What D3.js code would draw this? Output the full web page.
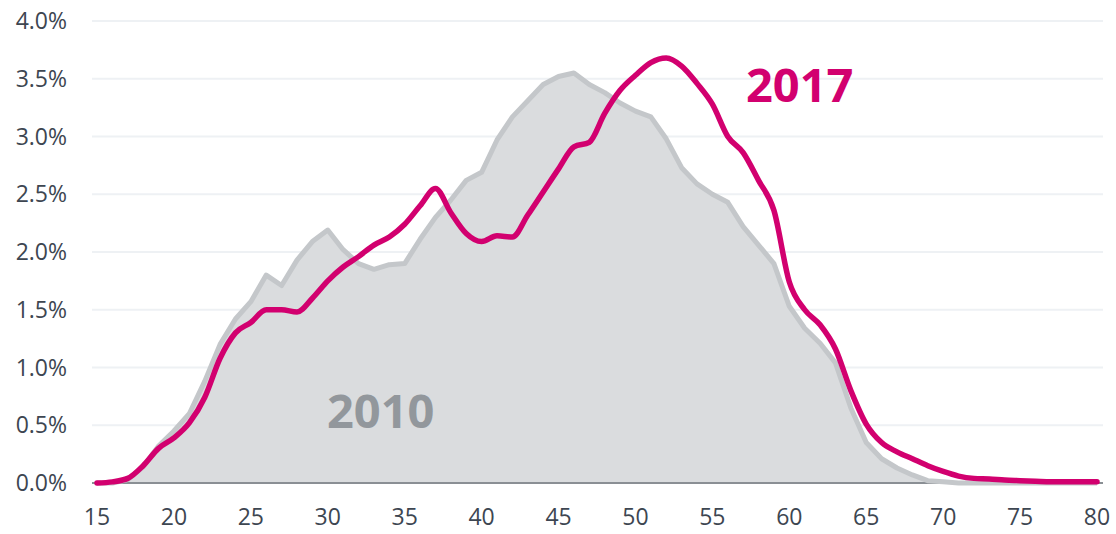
<!DOCTYPE html>
<html>
<head>
<meta charset="utf-8">
<script src="https://cdn.jsdelivr.net/npm/d3@7"></script>
<style>
  body { margin: 0; background: #fff; }
  svg { display: block; font-family: "Open Sans", sans-serif; }
</style>
</head>
<body>
<div id="chart"></div>
<script>
// ages on the x axis
var ages = d3.range(15, 81);
// share of population by age, %
var share2010 = [0, 0, 0.03, 0.14, 0.32, 0.45, 0.60, 0.88, 1.20, 1.42,
  1.57, 1.80, 1.71, 1.93, 2.09, 2.19, 2.02, 1.90, 1.85, 1.89,
  1.90, 2.11, 2.30, 2.45, 2.62, 2.69, 2.97, 3.17, 3.31, 3.45,
  3.52, 3.55, 3.45, 3.38, 3.29, 3.22, 3.17, 2.98, 2.73, 2.59,
  2.50, 2.43, 2.22, 2.06, 1.90, 1.53, 1.34, 1.21, 1.04, 0.65,
  0.35, 0.21, 0.13, 0.07, 0.02, 0.01, 0, 0, 0, 0,
  0, 0, 0, 0, 0, 0];
var share2017 = [0, 0.01, 0.04, 0.15, 0.30, 0.39, 0.52, 0.74, 1.08, 1.30,
  1.39, 1.50, 1.50, 1.48, 1.60, 1.75, 1.87, 1.96, 2.06, 2.13,
  2.24, 2.40, 2.55, 2.34, 2.16, 2.09, 2.14, 2.13, 2.32, 2.52,
  2.72, 2.91, 2.95, 3.20, 3.40, 3.53, 3.64, 3.68, 3.61, 3.46,
  3.28, 3.00, 2.86, 2.62, 2.36, 1.74, 1.50, 1.37, 1.16, 0.80,
  0.51, 0.35, 0.27, 0.21, 0.15, 0.10, 0.06, 0.04, 0.035, 0.025,
  0.02, 0.015, 0.01, 0.01, 0.01, 0.01];
var xTicks = [15, 20, 25, 30, 35, 40, 45, 50, 55, 60, 65, 70, 75, 80];
var yTicks = [0, 0.5, 1, 1.5, 2, 2.5, 3, 3.5, 4];

var width = 1116, height = 534;

var svg = d3.select("#chart").append("svg")
  .attr("width", width)
  .attr("height", height);

var x = d3.scaleLinear().domain([15, 80]).range([97, 1097]);
var y = d3.scaleLinear().domain([0, 4]).range([483, 21]);

// gridlines
svg.append("g")
  .selectAll("line")
  .data(yTicks.filter(function(d) { return d > 0; }))
  .enter().append("line")
  .attr("x1", 92).attr("x2", 1103)
  .attr("y1", function(d) { return y(d); })
  .attr("y2", function(d) { return y(d); })
  .attr("stroke", "#eef1f4")
  .attr("stroke-width", 2);

// y labels
svg.append("g")
  .selectAll("text")
  .data(yTicks)
  .enter().append("text")
  .attr("x", 67)
  .attr("y", function(d) { return y(d); })
  .attr("dy", "0.35em")
  .attr("text-anchor", "end")
  .attr("font-size", "23px")
  .attr("fill", "#3d4651")
  .text(function(d) { return d.toFixed(1) + "%"; });

// x labels
svg.append("g")
  .selectAll("text")
  .data(xTicks)
  .enter().append("text")
  .attr("x", function(d) { return x(d); })
  .attr("y", 517)
  .attr("dy", "0.35em")
  .attr("text-anchor", "middle")
  .attr("font-size", "23px")
  .attr("fill", "#3d4651")
  .text(function(d) { return d; });

var pts2010 = ages.map(function(a, i) { return [a, share2010[i]]; });
var pts2017 = ages.map(function(a, i) { return [a, share2017[i]]; });

// 2010 area
var area = d3.area()
  .x(function(d) { return x(d[0]); })
  .y0(y(0))
  .y1(function(d) { return y(d[1]); });
svg.append("path")
  .attr("d", area(pts2010))
  .attr("fill", "#dadcde");

// baseline
svg.append("line")
  .attr("x1", 92).attr("x2", 1103)
  .attr("y1", y(0)).attr("y2", y(0))
  .attr("stroke", "#8a8f94")
  .attr("stroke-width", 2);

var line2010 = d3.line()
  .x(function(d) { return x(d[0]); })
  .y(function(d) { return y(d[1]); });
svg.append("path")
  .attr("d", line2010(pts2010))
  .attr("fill", "none")
  .attr("stroke", "#c4c7ca")
  .attr("stroke-width", 5)
  .attr("stroke-linejoin", "round");

var line2017 = d3.line()
  .curve(d3.curveMonotoneX)
  .x(function(d) { return x(d[0]); })
  .y(function(d) { return y(d[1]); });
svg.append("path")
  .attr("d", line2017(pts2017))
  .attr("fill", "none")
  .attr("stroke", "#d2006f")
  .attr("stroke-width", 5.5)
  .attr("stroke-linecap", "round")
  .attr("stroke-linejoin", "round");

// series labels
svg.append("text")
  .attr("x", 327).attr("y", 428)
  .attr("font-size", "47px")
  .attr("font-weight", "bold")
  .attr("fill", "#92979c")
  .text("2010");
svg.append("text")
  .attr("x", 746).attr("y", 102)
  .attr("font-size", "47px")
  .attr("font-weight", "bold")
  .attr("fill", "#d2006f")
  .text("2017");
</script>
</body>
</html>
